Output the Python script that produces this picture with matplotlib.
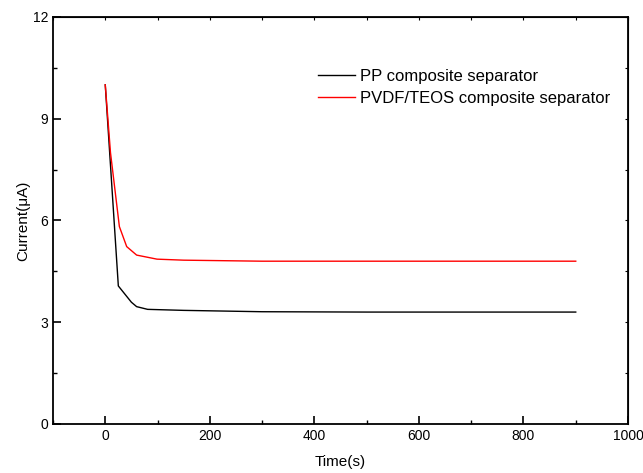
import matplotlib
matplotlib.use("Agg")
import matplotlib.pyplot as plt

plt.rcParams['font.family'] = ['Liberation Sans', 'DejaVu Sans']

# data
time_pp = [0, 25, 50, 60, 81, 150, 300, 500, 700, 900]
current_pp = [10.0, 4.07, 3.59, 3.46, 3.38, 3.35, 3.31, 3.30, 3.30, 3.30]

time_pvdf = [0, 10, 27, 41, 60, 99, 150, 300, 500, 700, 900]
current_pvdf = [10.0, 8.0, 5.82, 5.23, 4.98, 4.86, 4.83, 4.80, 4.80, 4.80, 4.80]

xticks = [0, 200, 400, 600, 800, 1000]
yticks = [0, 3, 6, 9, 12]

fig = plt.figure(figsize=(6.43, 4.73), dpi=100)
ax = fig.add_axes([0.0824, 0.1036, 0.8943, 0.8605])

ax.plot(time_pp, current_pp, color='black', lw=1.0, label='PP composite separator')
ax.plot(time_pvdf, current_pvdf, color='red', lw=1.0, label='PVDF/TEOS composite separator')

ax.set_xlim(-100, 1000)
ax.set_ylim(0, 12)
ax.set_xticks(xticks)
ax.set_yticks(yticks)
ax.set_xticks(range(-100, 1001, 100), minor=True)
ax.set_yticks([1.5, 4.5, 7.5, 10.5], minor=True)
ax.tick_params(which='major', direction='in', length=6, width=1.2, labelsize=10)
ax.tick_params(which='minor', direction='in', length=3, width=1.0)
for s in ax.spines.values():
    s.set_linewidth(1.3)

# small ticks on the top and right edges
top = ax.secondary_xaxis('top')
top.set_xticks(range(-100, 1001, 100))
top.tick_params(direction='in', length=2, width=0.8, labeltop=False)
right = ax.secondary_yaxis('right')
right.set_yticks([1.5, 3, 4.5, 6, 7.5, 9, 10.5, 12])
right.tick_params(direction='in', length=2, width=0.8, labelright=False)

ax.set_xlabel('Time(s)', fontsize=11, labelpad=9)
ax.set_ylabel('Current(μA)', fontsize=11, labelpad=2)

ax.legend(loc='upper left', bbox_to_anchor=(0.461, 0.873), frameon=False,
          fontsize=12, handlelength=2.2, handletextpad=0.3,
          labelspacing=0.45, borderaxespad=0, borderpad=0)

fig.savefig('out.png', dpi=100)
